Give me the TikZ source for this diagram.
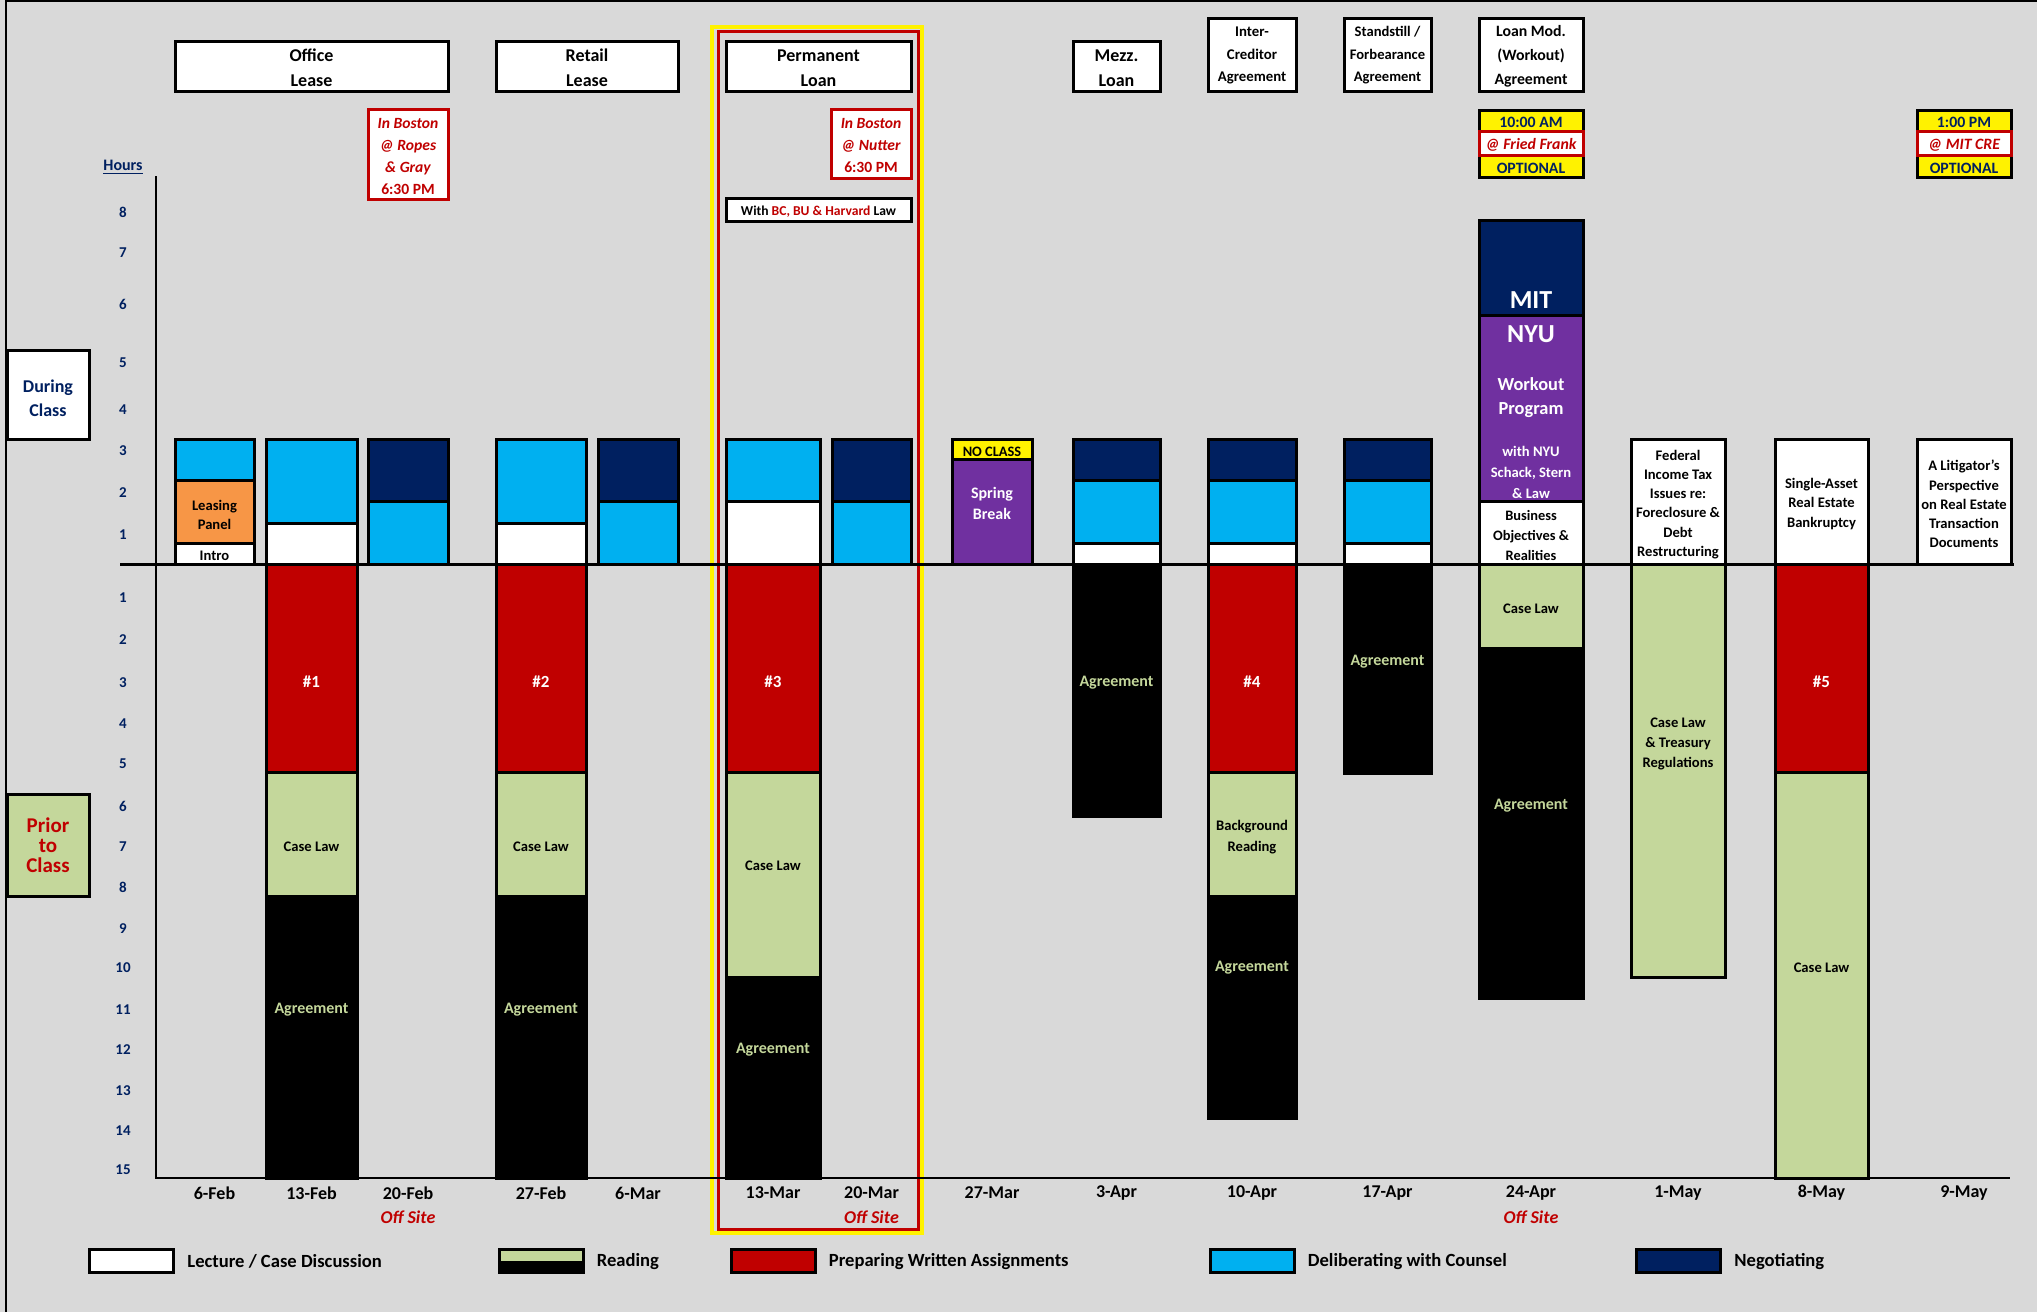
\documentclass[tikz,border=0pt]{standalone}
\usepackage{fontspec}
\setmainfont{Carlito}
\usetikzlibrary{positioning}

\definecolor{bggray}{HTML}{D9D9D9}
\definecolor{skyblue}{HTML}{00B0F0}
\definecolor{navyblue}{HTML}{002060}
\definecolor{darkred}{HTML}{C00000}
\definecolor{sage}{HTML}{C4D79B}
\definecolor{orng}{HTML}{F79646}
\definecolor{purp}{HTML}{7030A0}

\newcommand\fsz[2]{\fontsize{#1}{#2}\selectfont\bfseries}

\begin{document}
\begin{tikzpicture}[x=0.5pt,y=-0.5pt,
  every node/.style={inner sep=0pt, align=center, yshift=-1pt},
  seg/.style={draw=black, line width=1.5pt},
  hdr/.style={draw=black, line width=1.5pt, fill=white},
  note/.style={draw=darkred, line width=1.5pt, fill=white},
  tick/.style={font=\fsz{7.5}{9}, text=navyblue},
  date/.style={font=\fsz{9}{11}},
  offsite/.style={font=\fsz{9}{11}\itshape, text=darkred},
  small/.style={font=\fsz{7.3}{9.6}},
  agr/.style={font=\fsz{8}{10}, text=sage},
  asg/.style={font=\fsz{8.5}{10}, text=white},
  legbox/.style={draw=black, line width=1.5pt, minimum width=42pt, minimum height=11.5pt},
  legtxt/.style={font=\fsz{9.3}{11}, anchor=west, yshift=0.8pt}]

  \fill[bggray] (0,0) rectangle (2037,1312);
  \useasboundingbox (0,0) rectangle (2037,1312);
  \draw[line width=1.25pt] (6,1312) -- (6,1) -- (2037,1);

  \draw[yellow, line width=1.75pt] (712,27) rectangle (922,1233);
  \draw[darkred, line width=1.5pt] (718,31) rectangle (918,1229);

  % during class
  \foreach \xa/\xb/\ya/\yb/\c in {
    175/254/439/480/skyblue, 175/254/480/543/orng, 175/254/543/564.5/white,
    266/357/439/523/skyblue, 266/357/523/564.5/white,
    368/448/439/501/navyblue, 368/448/501/564.5/skyblue,
    496/586/439/523/skyblue, 496/586/523/564.5/white,
    598/678/439/501/navyblue, 598/678/501/564.5/skyblue,
    726/820/439/501/skyblue, 726/820/501/564.5/white,
    832/911/439/501/navyblue, 832/911/501/564.5/skyblue,
    952/1032/439/459/yellow, 952/1032/459/564.5/purp,
    1073/1160/439/480/navyblue, 1073/1160/480/543/skyblue, 1073/1160/543/564.5/white,
    1208/1296/439/480/navyblue, 1208/1296/480/543/skyblue, 1208/1296/543/564.5/white,
    1344/1431/439/480/navyblue, 1344/1431/480/543/skyblue, 1344/1431/543/564.5/white,
    1479/1583/220/315/navyblue, 1479/1583/315/501/purp, 1479/1583/501/564.5/white,
    1631/1725/439/564.5/white, 1775/1868/439/564.5/white, 1917/2011/439/564.5/white}
    \draw[seg, fill=\c] (\xa,\ya) rectangle (\xb,\yb);

  % prior to class
  \foreach \xa/\xb/\ya/\yb/\c in {
    266/357/564.5/772.5/darkred, 266/357/772.5/896/sage, 266/357/896/1178/black,
    496/586/564.5/772.5/darkred, 496/586/772.5/896/sage, 496/586/896/1178/black,
    726/820/564.5/772.5/darkred, 726/820/772.5/977/sage, 726/820/977/1178/black,
    1073/1160/564.5/816/black,
    1208/1296/564.5/772.5/darkred, 1208/1296/772.5/896/sage, 1208/1296/896/1118.5/black,
    1344/1431/564.5/773.5/black,
    1479/1583/564.5/648.6/sage, 1479/1583/648.6/998/black,
    1631/1725/564.5/977.6/sage,
    1775/1868/564.5/772.5/darkred, 1775/1868/772.5/1178/sage}
    \draw[seg, fill=\c] (\xa,\ya) rectangle (\xb,\yb);

  \draw[line width=1pt] (156,176) -- (156,1178) -- (2010,1178);
  \draw[line width=1.5pt] (120,564.5) -- (2014,564.5);

  \node[font=\fsz{8}{10}, text=navyblue] (hours) at (123,165) {\underline{Hours}};
  \foreach \h/\y in {1/533,2/491,3/449,4/408,5/361,6/302,7/251,8/210}
    \node[tick] (up\h) at (123,\y) {\h};
  \foreach \h/\y in {1/596,2/638,3/681,4/722,5/762,6/804,7/845,8/885,
                     9/927,10/966,11/1008,12/1048,13/1089,14/1129,15/1168}
    \node[tick] (dn\h) at (123,\y) {\h};

  \draw[hdr] (7,350) rectangle (89,439);
  \node[font=\fsz{9}{11.8}, text=navyblue] (during) at (48,396) {During\\Class};
  \draw[hdr, fill=sage] (7,794) rectangle (89,896);
  \node[font=\fsz{10.5}{10}, text=darkred] (prior) at (48,843) {Prior\\to\\Class};

  % deals
  \draw[hdr] (175,41) rectangle (448,91);
  \node[font=\fsz{9}{12.3}] (office) at (311.5,66) {Office\\Lease};
  \draw[hdr] (496,41) rectangle (678,91);
  \node[font=\fsz{9}{12.3}] (retail) at (587,66) {Retail\\Lease};
  \draw[hdr] (726,41) rectangle (911,91);
  \node[font=\fsz{9}{12.3}] (perm) at (818.5,66) {Permanent\\Loan};
  \draw[hdr] (1073,41) rectangle (1160,91);
  \node[font=\fsz{9}{12.3}] (mezz) at (1116.5,66) {Mezz.\\Loan};
  \draw[hdr] (1208,18) rectangle (1296,91);
  \node[font=\fsz{7.4}{11.3}] (icr) at (1252,53.5) {Inter-\\Creditor\\Agreement};
  \draw[hdr] (1344,18) rectangle (1431,91);
  \node[font=\fsz{7.3}{11.3}] (stand) at (1387.5,53.5) {Standstill /\\Forbearance\\Agreement};
  \draw[hdr] (1479,18) rectangle (1583,91);
  \node[font=\fsz{7.9}{12}] (lmod) at (1531,54.5) {Loan Mod.\\(Workout)\\Agreement};

  % sessions away
  \draw[note] (368,109) rectangle (448,199);
  \node[font=\fsz{7.8}{11}, text=darkred] (ropes) at (408,154)
    {\itshape In Boston\\\itshape @ Ropes\\\itshape \& Gray\\6:30 PM};
  \draw[note] (831,109) rectangle (911,178);
  \node[font=\fsz{7.8}{11}, text=darkred] (nutter) at (871,143)
    {\itshape In Boston\\\itshape @ Nutter\\6:30 PM};
  \draw[hdr] (726,198) rectangle (911,221);
  \node[font=\fsz{6.8}{8}] (joint) at (818.5,209.5)
    {With \textcolor{darkred}{BC, BU \& Harvard} Law};

  \draw[hdr, fill=yellow] (1479,110) rectangle (1583,177);
  \draw[note] (1479,131) rectangle (1583,155);
  \node[font=\fsz{7.9}{9}, text=navyblue] (ffam) at (1531,120.5) {10:00 AM};
  \node[font=\fsz{7.9}{9}\itshape, text=darkred] (ff) at (1531,143) {@ Fried Frank};
  \node[font=\fsz{7.9}{9}, text=navyblue] (ffopt) at (1531,166) {OPTIONAL};
  \draw[hdr, fill=yellow] (1917,110) rectangle (2011,177);
  \draw[note] (1917,131) rectangle (2011,155);
  \node[font=\fsz{7.9}{9}, text=navyblue] (mitpm) at (1964,120.5) {1:00 PM};
  \node[font=\fsz{7.9}{9}\itshape, text=darkred] (mitcre) at (1964,143) {@ MIT CRE};
  \node[font=\fsz{7.9}{9}, text=navyblue] (mitopt) at (1964,166) {OPTIONAL};

  % bar texts
  \node[small, font=\fsz{7.3}{9.5}] (panel) at (214.5,512.5) {Leasing\\Panel};
  \node[small] (intro) at (214.5,554) {Intro};
  \node[font=\fsz{7.2}{9}] (nocl) at (992,449.5) {NO CLASS};
  \node[font=\fsz{8}{10.5}, text=white] (spring) at (992,501.5) {Spring\\Break};
  \node[font=\fsz{13}{15}, text=white] (mit) at (1531,298.5) {MIT};
  \node[font=\fsz{13}{15}, text=white] (nyu) at (1531,332) {NYU};
  \node[font=\fsz{9.2}{12}, text=white] (wkp) at (1531,395.5) {Workout\\Program};
  \node[font=\fsz{7.3}{10.5}, text=white] (schack) at (1531,470) {with NYU\\Schack, Stern\\\& Law};
  \node[font=\fsz{7.2}{9.8}] (biz) at (1531,533.5) {Business\\Objectives \&\\Realities};
  \node[small] (tax) at (1678,502.5) {Federal\\Income Tax\\Issues re:\\Foreclosure \&\\Debt\\Restructuring};
  \node[small, font=\fsz{7.3}{9.7}] (bkr) at (1821.5,502) {Single-Asset\\Real Estate\\Bankruptcy};
  \node[small] (litig) at (1964,502) {A Litigator's\\Perspective\\on Real Estate\\Transaction\\Documents};

  \node[asg] (a1) at (311.5,680) {\#1};
  \node[small] (cl1) at (311.5,845) {Case Law};
  \node[agr] (ag1) at (311.5,1008) {Agreement};
  \node[asg] (a2) at (541,680) {\#2};
  \node[small] (cl2) at (541,845) {Case Law};
  \node[agr] (ag2) at (541,1008) {Agreement};
  \node[asg] (a3) at (773,680) {\#3};
  \node[small] (cl3) at (773,864) {Case Law};
  \node[agr] (ag3) at (773,1048) {Agreement};
  \node[agr] (ag4) at (1116.5,681) {Agreement};
  \node[asg] (a4) at (1252,680) {\#4};
  \node[small, font=\fsz{7.3}{10.3}] (bg) at (1252,835) {Background\\Reading};
  \node[agr] (ag5) at (1252,966) {Agreement};
  \node[agr] (ag6) at (1387.5,660) {Agreement};
  \node[small] (cl4) at (1531,607) {Case Law};
  \node[agr] (ag7) at (1531,804) {Agreement};
  \node[small, font=\fsz{7.3}{10}] (treas) at (1678,742) {Case Law\\\& Treasury\\Regulations};
  \node[asg] (a5) at (1821.5,680) {\#5};
  \node[small] (cl5) at (1821.5,966) {Case Law};

  % dates
  \foreach \x/\d [count=\i] in {214.5/6-Feb, 311.5/13-Feb, 408/20-Feb, 541/27-Feb,
      638/6-Mar, 773/13-Mar, 871.5/20-Mar, 992/27-Mar, 1116.5/3-Apr, 1252/10-Apr,
      1387.5/17-Apr, 1531/24-Apr, 1678/1-May, 1821.5/8-May, 1964/9-May}
    \node[date] (d\i) at (\x,1191) {\d};
  \node[offsite] (off1) at ([yshift=-11pt]d3) {Off Site};
  \node[offsite] (off2) at ([yshift=-11pt]d7) {Off Site};
  \node[offsite] (off3) at ([yshift=-11pt]d12) {Off Site};

  % legend
  \node[legbox, fill=white] (lglec) at (131.5,1259) {};
  \node[legtxt, right=6pt of lglec] (lglectxt) {Lecture / Case Discussion};
  \node[legbox, fill=black, path picture={\fill[sage]
      (path picture bounding box.north west) rectangle (path picture bounding box.east);}]
    (lgread) at (541,1259) {};
  \node[legtxt, right=6pt of lgread] (lgreadtxt) {Reading};
  \node[legbox, fill=darkred] (lgwrite) at (773,1259) {};
  \node[legtxt, right=6pt of lgwrite] (lgwritetxt) {Preparing Written Assignments};
  \node[legbox, fill=skyblue] (lgdelib) at (1252,1259) {};
  \node[legtxt, right=6pt of lgdelib] (lgdelibtxt) {Deliberating with Counsel};
  \node[legbox, fill=navyblue] (lgneg) at (1678.5,1259) {};
  \node[legtxt, right=6pt of lgneg] (lgnegtxt) {Negotiating};
\end{tikzpicture}
\end{document}
